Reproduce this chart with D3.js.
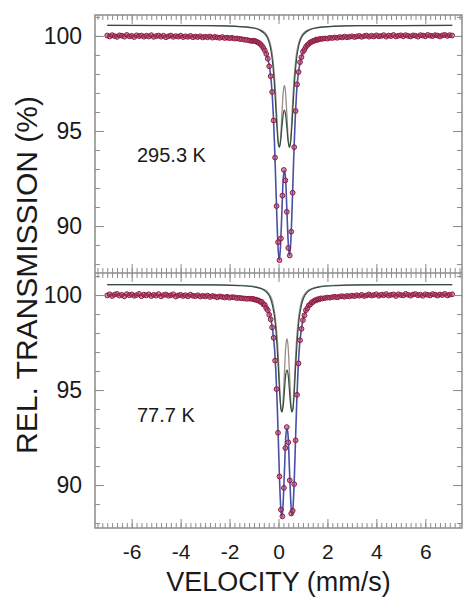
<!DOCTYPE html>
<html>
<head>
<meta charset="utf-8">
<script src="https://cdn.jsdelivr.net/npm/d3@7"></script>
<style>
  body { margin: 0; background: #fff; }
  text { font-family: "Liberation Sans", Arial, Helvetica, sans-serif; fill: #1a1a1a; }
</style>
</head>
<body>
<svg id="chart" width="464" height="599"></svg>
<script>
// Measured channels (mm/s), shared by both spectra
const velocity = [
  -7,-6.9,-6.8,-6.7,-6.6,-6.5,-6.4,-6.3,-6.2,-6.1,-6,-5.9,-5.8,-5.7,-5.6,-5.5,-5.4,-5.3,-5.2,-5.1,
  -5,-4.9,-4.8,-4.7,-4.6,-4.5,-4.4,-4.3,-4.2,-4.1,-4,-3.9,-3.8,-3.7,-3.6,-3.5,-3.4,-3.3,-3.2,-3.1,
  -3,-2.9,-2.8,-2.7,-2.6,-2.5,-2.4,-2.3,-2.2,-2.1,-2,-1.9,-1.8,-1.7,-1.6,-1.5,-1.4,-1.3,-1.2,-1.1,
  -1.04,-0.98,-0.92,-0.86,-0.8,-0.74,-0.68,-0.62,-0.56,-0.5,-0.44,-0.38,-0.32,-0.26,-0.2,-0.14,
  -0.08,-0.02,0.04,0.1,0.16,0.22,0.28,0.34,0.4,0.46,0.52,0.58,0.64,0.7,0.76,0.82,0.88,0.94,1,
  1.06,1.12,1.18,1.24,1.3,1.36,1.42,1.48,1.54,1.6,1.66,1.72,
  1.8,1.9,2,2.1,2.2,2.3,2.4,2.5,2.6,2.7,2.8,2.9,3,3.1,3.2,3.3,3.4,3.5,3.6,3.7,
  3.8,3.9,4,4.1,4.2,4.3,4.4,4.5,4.6,4.7,4.8,4.9,5,5.1,5.2,5.3,5.4,5.5,5.6,5.7,
  5.8,5.9,6,6.1,6.2,6.3,6.4,6.5,6.6,6.7,6.8,6.9,7,7.1
];

// Relative transmission (%) at 295.3 K
const transmission295 = [
  100.02,99.97,100.04,99.99,99.95,100.03,100.01,99.96,100.05,99.98,
  100.00,99.94,100.03,99.99,100.02,99.96,100.01,99.97,100.04,99.95,
  99.99,100.02,99.96,100.01,99.93,99.98,100.02,99.95,99.99,99.96,
  100.01,99.94,99.98,99.95,100.00,99.93,99.97,99.94,99.98,99.92,
  99.96,99.93,99.97,99.91,99.95,99.92,99.90,99.94,99.89,99.91,
  99.88,99.90,99.86,99.87,99.84,99.83,99.80,99.79,99.76,99.73,
  99.75,99.74,99.71,99.67,99.63,99.57,99.48,99.37,99.24,99.05,98.80,98.40,97.88,97.05,95.55,93.60,
  91.05,89.15,88.20,89.35,91.60,92.95,92.40,90.75,88.85,88.45,89.70,91.75,94.15,96.05,97.45,98.10,
  98.62,98.88,99.17,99.28,99.42,99.52,99.58,99.66,99.69,99.74,99.75,99.81,99.79,99.83,99.84,
  99.85,99.87,99.86,99.90,99.89,99.92,99.90,99.94,99.92,99.96,
  99.93,99.95,99.98,99.94,99.97,100.00,99.95,99.99,100.02,99.96,
  100.01,99.97,100.03,99.98,100.00,100.04,99.96,100.02,99.99,100.05,
  99.97,100.01,100.03,99.98,100.04,100.00,99.97,100.03,100.01,99.96,
  100.04,100.02,99.98,100.05,100.01,99.99,100.04,100.02,99.97,100.03,
  100.05,100.00,100.04,100.02
];

// Relative transmission (%) at 77.7 K
const transmission77 = [
  99.98,100.04,99.95,100.02,100.06,99.97,100.01,99.93,100.05,99.99,
  100.03,99.96,100.00,100.06,99.94,100.02,99.98,100.04,99.95,100.01,
  99.97,100.05,99.93,100.00,100.03,99.96,99.99,100.04,99.92,99.98,
  100.01,99.95,99.99,99.93,100.02,99.96,99.94,99.99,99.92,99.96,
  99.93,99.97,99.90,99.95,99.92,99.88,99.93,99.90,99.87,99.91,
  99.86,99.89,99.88,99.84,99.85,99.83,99.82,99.80,99.81,99.80,
  99.80,99.76,99.76,99.72,99.71,99.64,99.64,99.51,99.48,99.31,99.20,98.96,98.72,98.30,97.75,96.55,
  95.05,92.75,90.45,88.70,88.35,89.85,91.95,93.05,92.25,90.25,88.50,88.65,90.05,92.35,94.75,96.40,
  97.62,98.22,98.68,98.93,99.20,99.30,99.46,99.51,99.62,99.64,99.72,99.72,99.78,99.77,99.82,
  99.82,99.84,99.87,99.86,99.89,99.91,99.88,99.92,99.94,99.91,
  99.95,99.93,99.97,99.94,99.99,99.96,100.01,99.95,99.98,100.03,
  99.97,100.00,100.04,99.96,100.02,99.99,100.05,99.97,100.01,100.03,
  99.95,100.04,100.00,99.98,100.06,100.01,99.97,100.03,100.05,99.99,
  100.02,99.96,100.04,100.01,99.98,100.05,100.02,99.97,100.03,100.00,
  100.06,99.98,100.02,100.04
];

// Fitted model at 295.3 K: nodes (mm/s), total fit and the two doublet sub-spectra
const fitVelocity295 = [
  -7,-2.76,-1.76,-1.06,-0.76,-0.56,-0.46,-0.36,-0.26,-0.21,-0.16,-0.11,-0.06,-0.01,0.04,0.09,0.14,0.19,
  0.24,0.29,0.34,0.39,0.44,0.49,0.54,0.59,0.64,0.69,0.74,0.84,0.94,1.04,1.24,1.54,2.24,3.24,7.1
];
const fit295 = [
  100.0,99.97,99.93,99.78,99.6,99.25,98.9,98.3,97.0,95.8,94.2,92.2,90.2,88.7,88.2,89.15,90.8,92.45,
  92.9,92.5,90.9,89.3,88.45,88.9,90.35,92.3,94.25,95.85,97.05,98.3,98.9,99.25,99.6,99.78,99.93,99.97,100.0
];
const siteA295 = [
  100.55,100.54,100.51,100.44,100.33,100.17,100.0,99.7,99.1,98.55,97.8,96.8,95.5,94.45,94.15,94.7,95.9,97.0,
  97.4,97.0,95.9,94.7,94.15,94.45,95.5,96.8,97.8,98.55,99.1,99.7,100.0,100.17,100.33,100.44,100.51,100.54,100.55
];
const siteB295 = [
  100.55,100.54,100.5,100.42,100.3,100.1,99.92,99.55,98.8,98.15,97.3,96.2,95.1,94.35,94.15,94.5,95.2,95.85,
  96.1,95.85,95.2,94.5,94.15,94.35,95.1,96.2,97.3,98.15,98.8,99.55,99.92,100.1,100.3,100.42,100.5,100.54,100.55
];

// Fitted model at 77.7 K
const fitVelocity77 = [
  -7,-2.655,-1.655,-0.955,-0.655,-0.455,-0.355,-0.255,-0.155,-0.105,-0.055,-0.005,0.045,0.095,0.145,0.195,0.245,0.295,
  0.345,0.395,0.445,0.495,0.545,0.595,0.645,0.695,0.745,0.795,0.845,0.945,1.045,1.145,1.345,1.645,2.345,3.345,7.1
];
const fit77 = [
  100.0,99.97,99.93,99.78,99.6,99.27,98.95,98.3,97.05,95.9,94.3,92.3,90.2,88.75,88.3,89.2,90.8,92.5,
  93.0,92.55,90.9,89.3,88.4,88.85,90.3,92.35,94.35,95.95,97.1,98.3,98.95,99.27,99.6,99.78,99.93,99.97,100.0
];
const siteA77 = [
  100.55,100.54,100.51,100.44,100.33,100.17,100.0,99.7,99.05,98.5,97.75,96.7,95.3,94.1,93.85,94.6,96.0,97.25,
  97.7,97.25,96.0,94.6,93.85,94.1,95.3,96.7,97.75,98.5,99.05,99.7,100.0,100.17,100.33,100.44,100.51,100.54,100.55
];
const siteB77 = [
  100.55,100.54,100.5,100.42,100.3,100.1,99.9,99.5,98.75,98.1,97.2,96.1,94.9,94.05,93.85,94.2,95.0,95.8,
  96.05,95.8,95.0,94.2,93.85,94.05,94.9,96.1,97.2,98.1,98.75,99.5,99.9,100.1,100.3,100.42,100.5,100.54,100.55
];

const xTickLabels = [-6, -4, -2, 0, 2, 4, 6];
const yTickLabels = [90, 95, 100];
const temperatureLabels = ["295.3 K", "77.7 K"];
const xTitle = "VELOCITY (mm/s)";
const yTitle = "REL. TRANSMISSION (%)";

// ---- layout ----
const svg = d3.select("#chart");
const frameLeft = 95, frameRight = 462, frameTop = 15, frameMid = 273, frameBottom = 528;
const frameColor = "#8c8c8c";
const fitColor = "#4a4fa6";
const siteAColor = "#9a8a88";
const siteBColor = "#2f4f3c";
const pointStroke = "#8e1a3e";
const pointFill = "rgba(178,70,112,0.6)";

const x = d3.scaleLinear().domain([-7.5, 7.5]).range([frameLeft, frameRight]);
const xMinor = d3.range(-74, 75, 2).map(d => d / 10);

const panels = [
  { label: temperatureLabels[0], data: transmission295, fitV: fitVelocity295, fit: fit295,
    a: siteA295, b: siteB295, y0: frameTop, y1: frameMid, domain: [87.53, 101.1], labelY: 162 },
  { label: temperatureLabels[1], data: transmission77, fitV: fitVelocity77, fit: fit77,
    a: siteA77, b: siteB77, y0: frameMid, y1: frameBottom, domain: [87.74, 101.16], labelY: 422 }
];

function styleTicks(g) {
  g.select(".domain").remove();
  g.selectAll("line").attr("stroke", frameColor).attr("stroke-width", 1);
}

panels.forEach((p, i) => {
  const y = d3.scaleLinear().domain(p.domain).range([p.y1, p.y0]);
  const clipId = "clip" + i;
  svg.append("clipPath").attr("id", clipId)
    .append("rect").attr("x", frameLeft).attr("y", p.y0)
    .attr("width", frameRight - frameLeft).attr("height", p.y1 - p.y0);

  const plot = svg.append("g").attr("clip-path", `url(#${clipId})`);
  const line = d3.line().x(d => x(d[0])).y(d => y(d[1])).curve(d3.curveMonotoneX);

  // doublet sub-spectra
  plot.append("path").datum(p.fitV.map((v, k) => [v, p.a[k]]))
    .attr("d", line).attr("fill", "none").attr("stroke", siteAColor).attr("stroke-width", 1.3);
  plot.append("path").datum(p.fitV.map((v, k) => [v, p.b[k]]))
    .attr("d", line).attr("fill", "none").attr("stroke", siteBColor).attr("stroke-width", 1.2);
  // total fit
  plot.append("path").datum(p.fitV.map((v, k) => [v, p.fit[k]]))
    .attr("d", line).attr("fill", "none").attr("stroke", fitColor).attr("stroke-width", 1.6);
  // measured points
  plot.selectAll("circle.pt").data(velocity.map((v, k) => [v, p.data[k]]).filter(d => d[1] != null))
    .join("circle").attr("class", "pt")
    .attr("cx", d => x(d[0])).attr("cy", d => y(d[1])).attr("r", 2.4)
    .attr("fill", pointFill).attr("stroke", pointStroke).attr("stroke-width", 1);

  // y ticks: minor every 1 %, major every 5 % (left labelled, right mirrored)
  const yMinor = d3.range(88, 102);
  svg.append("g").attr("transform", `translate(${frameLeft},0)`)
    .call(d3.axisLeft(y).tickValues(yMinor).tickSize(-5).tickFormat("")).call(styleTicks);
  svg.append("g").attr("transform", `translate(${frameRight},0)`)
    .call(d3.axisRight(y).tickValues(yMinor).tickSize(-5).tickFormat("")).call(styleTicks);
  svg.append("g").attr("transform", `translate(${frameRight},0)`)
    .call(d3.axisRight(y).tickValues(yTickLabels).tickSize(-9).tickFormat("")).call(styleTicks);
  const yl = svg.append("g").attr("transform", `translate(${frameLeft},0)`)
    .call(d3.axisLeft(y).tickValues(yTickLabels).tickSize(-9).tickPadding(13).tickFormat(d => String(d)))
    .call(styleTicks);
  yl.selectAll("text").attr("font-size", 23).attr("fill", "#1a1a1a")
    .attr("font-family", "Liberation Sans, Arial, sans-serif");

  // x ticks on upper and lower edge of this panel
  svg.append("g").attr("transform", `translate(0,${p.y0})`)
    .call(d3.axisTop(x).tickFormat("").tickValues(xMinor).tickSize(-5)).call(styleTicks);
  svg.append("g").attr("transform", `translate(0,${p.y0})`)
    .call(d3.axisTop(x).tickFormat("").tickValues(xTickLabels).tickSize(-9)).call(styleTicks);
  svg.append("g").attr("transform", `translate(0,${p.y1})`)
    .call(d3.axisBottom(x).tickFormat("").tickValues(xMinor).tickSize(-5)).call(styleTicks);
  svg.append("g").attr("transform", `translate(0,${p.y1})`)
    .call(d3.axisBottom(x).tickFormat("").tickValues(xTickLabels).tickSize(-9)).call(styleTicks);

  // temperature label
  svg.append("text").attr("x", 137).attr("y", p.labelY)
    .attr("font-size", 20).text(p.label);
});

// frame and panel divider
svg.append("rect").attr("x", frameLeft).attr("y", frameTop)
  .attr("width", frameRight - frameLeft).attr("height", frameBottom - frameTop)
  .attr("fill", "none").attr("stroke", frameColor).attr("stroke-width", 1.5);
svg.append("line").attr("x1", frameLeft).attr("x2", frameRight).attr("y1", frameMid).attr("y2", frameMid)
  .attr("stroke", frameColor).attr("stroke-width", 1.5);

// x tick labels
const xl = svg.append("g").attr("transform", `translate(0,${frameBottom})`)
  .call(d3.axisBottom(x).tickValues(xTickLabels).tickSize(0).tickPadding(16).tickFormat(d => String(d)));
xl.select(".domain").remove();
xl.selectAll("text").attr("font-size", 21).attr("fill", "#1a1a1a")
  .attr("font-family", "Liberation Sans, Arial, sans-serif");

// axis titles
svg.append("text").attr("x", (frameLeft + frameRight) / 2).attr("y", 591).attr("text-anchor", "middle")
  .attr("font-size", 27).text(xTitle);
svg.append("text").attr("transform", "translate(37,275) rotate(-90)").attr("text-anchor", "middle")
  .attr("font-size", 30).text(yTitle);
</script>
</body>
</html>
